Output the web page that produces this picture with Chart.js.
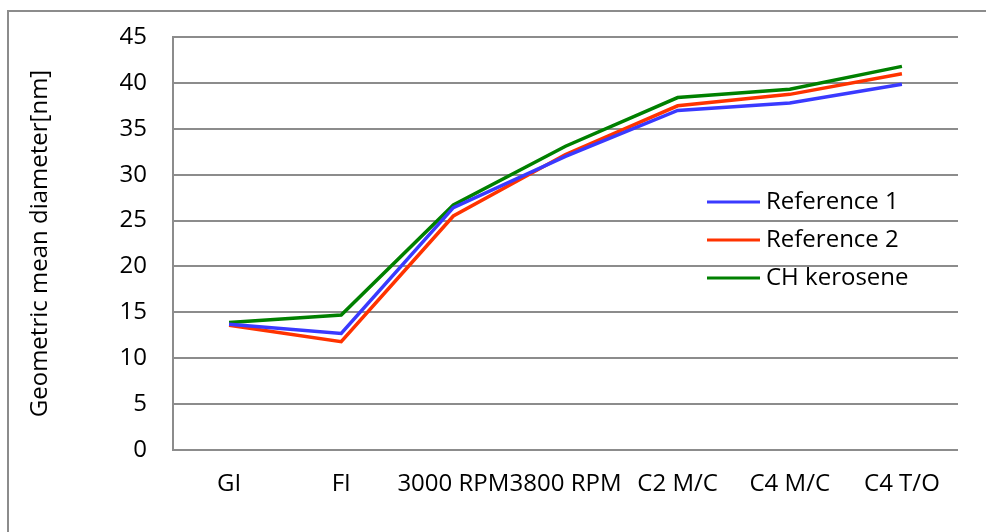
<!DOCTYPE html>
<html>
<head>
<meta charset="utf-8">
<title>Geometric mean diameter</title>
<script src="https://cdn.jsdelivr.net/npm/chart.js@4/dist/chart.umd.min.js"></script>
<style>
    body { margin: 0; background: #fff; }
    #wrap { position: relative; width: 986px; height: 532px; overflow: hidden; }
    #frame {
        position: absolute; left: 7px; top: 10px; width: 1000px; height: 600px;
        border-left: 2px solid #8c8c8c; border-top: 2px solid #8c8c8c;
    }
    canvas { position: absolute; left: 0; top: 0; }
</style>
</head>
<body>
<div id="wrap">
    <div id="frame"></div>
    <canvas id="diameterChart" width="986" height="532"></canvas>
</div>
<script>
// Operating points along the x axis
const categories = ['GI', 'FI', '3000 RPM', '3800 RPM', 'C2 M/C', 'C4 M/C', 'C4 T/O'];

// Geometric mean diameter [nm] per fuel
const reference1 = [13.7, 12.7, 26.4, 32.0, 37.0, 37.8, 39.85];
const reference2 = [13.6, 11.8, 25.5, 32.2, 37.5, 38.75, 41.0];
const chKerosene = [13.9, 14.7, 26.7, 33.1, 38.4, 39.3, 41.8];

const seriesNames = ['Reference 1', 'Reference 2', 'CH kerosene'];
const seriesColors = ['#3a3aff', '#ff3300', '#008000'];

const fontFamily = '"Open Sans", sans-serif';
const gridColor = '#8c8c8c';

// Legend drawn inside the plot area, right of centre
const insideLegend = {
    id: 'insideLegend',
    afterDraw(chart) {
        const ctx = chart.ctx;
        const x0 = 707, lineLen = 53, y0 = 202, step = 38;
        ctx.save();
        ctx.font = '24px ' + fontFamily;
        ctx.textBaseline = 'middle';
        ctx.fillStyle = '#000';
        chart.data.datasets.forEach(function(ds, i) {
            const y = y0 + i * step;
            ctx.strokeStyle = ds.borderColor;
            ctx.lineWidth = 3;
            ctx.beginPath();
            ctx.moveTo(x0, y);
            ctx.lineTo(x0 + lineLen, y);
            ctx.stroke();
            ctx.fillText(ds.label, x0 + lineLen + 6, y);
        });
        ctx.restore();
    }
};

const ctx = document.getElementById('diameterChart').getContext('2d');

new Chart(ctx, {
    type: 'line',
    data: {
        labels: categories,
        datasets: [reference1, reference2, chKerosene].map(function(values, i) {
            return {
                label: seriesNames[i],
                data: values,
                borderColor: seriesColors[i],
                backgroundColor: seriesColors[i],
                borderWidth: 3.5,
                pointRadius: 0,
                tension: 0,
                fill: false
            };
        })
    },
    options: {
        responsive: false,
        animation: false,
        layout: {
            padding: { left: 0, right: 28, top: 37, bottom: 0 }
        },
        scales: {
            x: {
                offset: true,
                grid: { display: false, drawTicks: false },
                border: { display: false },
                ticks: {
                    color: '#000',
                    font: { family: fontFamily, size: 24 },
                    padding: 20,
                    maxRotation: 0,
                    autoSkip: false
                },
                afterFit(scale) { scale.height = 82; }
            },
            y: {
                min: 0,
                max: 45,
                grid: {
                    color: gridColor,
                    lineWidth: 2,
                    drawTicks: false
                },
                border: { display: true, color: gridColor, width: 2 },
                ticks: {
                    stepSize: 5,
                    color: '#000',
                    font: { family: fontFamily, size: 24 },
                    padding: 26
                },
                title: {
                    display: true,
                    text: 'Geometric mean diameter[nm]',
                    color: '#000',
                    font: { family: fontFamily, size: 24 },
                    padding: { top: 26, bottom: 0 }
                },
                afterFit(scale) {
                    scale.width = 173;
                    // let the layout padding alone decide the plot top
                    scale.paddingTop = 0;
                    scale.paddingBottom = 0;
                }
            }
        },
        plugins: {
            legend: { display: false },
            tooltip: { enabled: false }
        }
    },
    plugins: [insideLegend]
});
</script>
</body>
</html>
